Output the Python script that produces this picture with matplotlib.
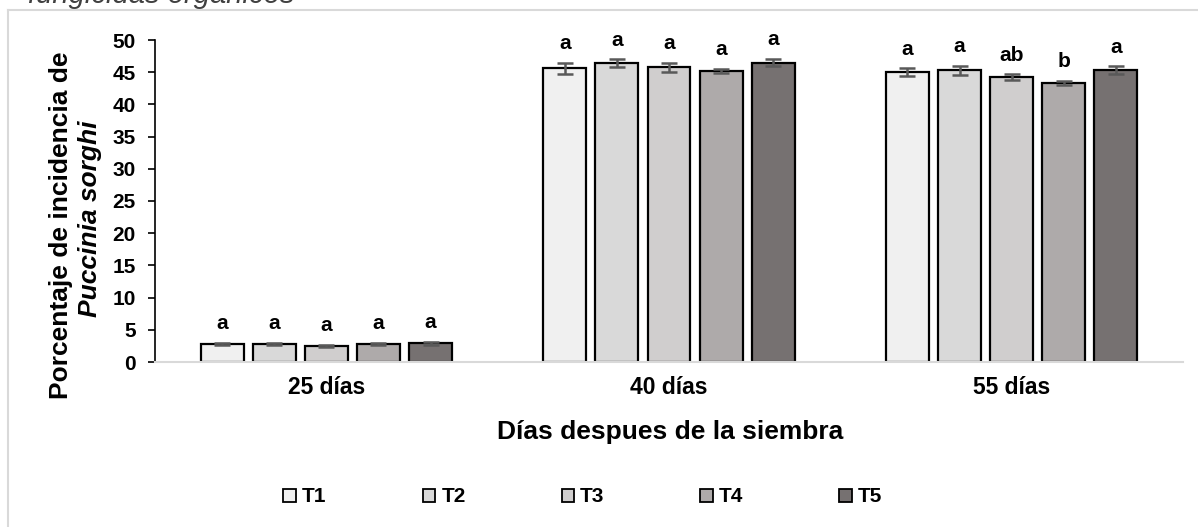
import numpy as np
import matplotlib.pyplot as plt
from matplotlib.lines import Line2D
from matplotlib.patches import Patch

plt.rcParams['font.family'] = ['Liberation Sans', 'DejaVu Sans']

# data
dias = ['25 días', '40 días', '55 días']
tratamientos = ['T1', 'T2', 'T3', 'T4', 'T5']
valores = [
    [2.8, 45.6, 45.0],
    [2.8, 46.4, 45.3],
    [2.5, 45.8, 44.2],
    [2.8, 45.2, 43.3],
    [2.9, 46.5, 45.3],
]
errores = [
    [0.2, 0.9, 0.6],
    [0.2, 0.6, 0.7],
    [0.2, 0.7, 0.45],
    [0.2, 0.3, 0.3],
    [0.2, 0.6, 0.6],
]
letras = [
    ['a', 'a', 'a'],
    ['a', 'a', 'a'],
    ['a', 'a', 'ab'],
    ['a', 'a', 'b'],
    ['a', 'a', 'a'],
]
colores = ['#f0f0f0', '#d9d9d9', '#d0cece', '#aeaaaa', '#767171']

#-----------------------------plotting-----------------------------------
W, H = 1198, 527
fig = plt.figure(figsize=(W / 100, H / 100), dpi=100)
ax = fig.add_axes([155 / W, 1 - 362 / H, (1183 - 155) / W, (362 - 40) / H])

x = np.arange(len(dias))
pitch = 0.152
width = 0.125
for i, t in enumerate(tratamientos):
    xpos = x + (i - 2) * pitch
    ax.bar(xpos, valores[i], width, color=colores[i], edgecolor='black',
           linewidth=1.6, label=t, zorder=2)
    ax.errorbar(xpos, valores[i], yerr=errores[i], fmt='none', ecolor='#595959',
                elinewidth=1.8, capsize=6, capthick=1.8, zorder=3)
    for j in range(len(dias)):
        ax.annotate(letras[i][j], (xpos[j], valores[i][j] + errores[i][j]),
                    xytext=(0, 7), textcoords='offset points', ha='center',
                    va='bottom', fontsize=15, fontweight='bold')

ax.set_xlim(-0.5, 2.5)
ax.set_ylim(0, 50)
ax.set_yticks(np.arange(0, 51, 5))
ax.set_xticks(x)
ax.set_xticklabels(dias, fontsize=16.5, fontweight='bold')
ax.tick_params(axis='x', length=0, pad=10)
ax.tick_params(axis='y', direction='out', length=5, width=1.2, labelsize=15, pad=9)
for lab in ax.get_yticklabels():
    lab.set_fontweight('bold')
ax.spines['top'].set_visible(False)
ax.spines['right'].set_visible(False)
ax.spines['left'].set_color('black')
ax.spines['left'].set_linewidth(1.2)
ax.spines['bottom'].set_color('#d9d9d9')
ax.spines['bottom'].set_linewidth(1.5)

fig.text(670 / W, 1 - 432 / H, 'Días despues de la siembra', ha='center', va='center',
         fontsize=19, fontweight='bold')
fig.text(61 / W, 1 - 225 / H, 'Porcentaje de incidencia de', rotation=90,
         ha='center', va='center', fontsize=19, fontweight='bold')
fig.text(90 / W, 1 - 219 / H, 'Puccinia sorghi', rotation=90,
         ha='center', va='center', fontsize=19, fontweight='bold', fontstyle='italic')

handles = [Patch(facecolor=c, edgecolor='black', linewidth=1.3) for c in colores]
leg = fig.legend(handles, tratamientos, loc='center', bbox_to_anchor=(583 / W, 1 - 497 / H),
                 ncol=5, frameon=False, handlelength=0.6, handleheight=0.6,
                 handletextpad=0.3, columnspacing=4.6, prop={'weight': 'bold', 'size': 15})

# chart area border (light gray) and cut title
fig.add_artist(Line2D([8 / W, 8 / W], [0, 1 - 10 / H], color='#d9d9d9', lw=1.5,
                      transform=fig.transFigure))
fig.add_artist(Line2D([8 / W, 1], [1 - 10 / H, 1 - 10 / H], color='#d9d9d9', lw=1.5,
                      transform=fig.transFigure))
fig.text(295 / W, 1 - 3 / H, 'fungicidas orgánicos', ha='right', va='baseline',
         fontsize=21, fontstyle='italic', color='#404040')

fig.savefig('out.png', dpi=100)
